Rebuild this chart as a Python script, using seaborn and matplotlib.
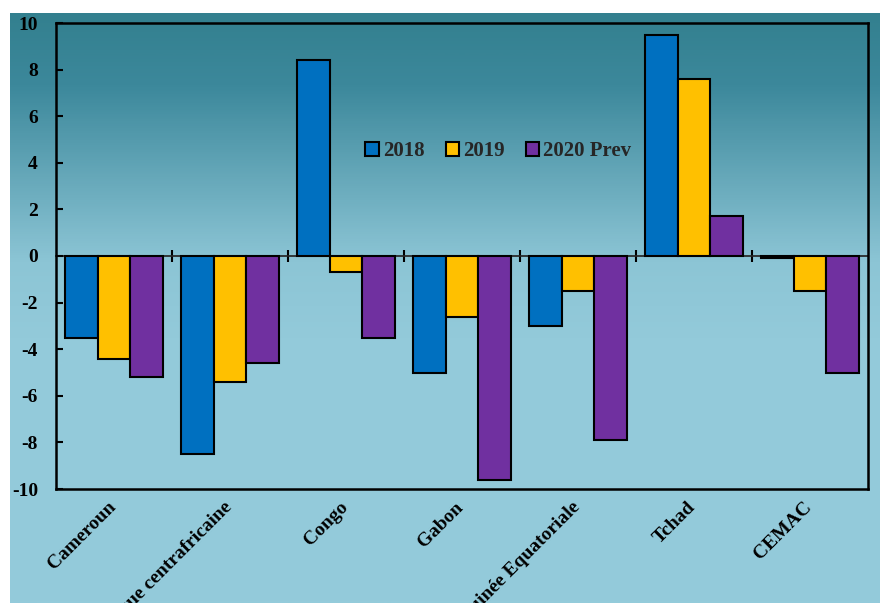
import numpy as np
import pandas as pd
import matplotlib
matplotlib.use("Agg")
import matplotlib.pyplot as plt
from matplotlib.colors import LinearSegmentedColormap
from matplotlib.transforms import ScaledTranslation
import seaborn as sns

# Données : solde budgétaire (% du PIB) par pays de la CEMAC
pays = ["Cameroun", "République centrafricaine", "Congo", "Gabon",
        "Guinée Equatoriale", "Tchad", "CEMAC"]
annees = ["2018", "2019", "2020 Prev"]
v2018 = [-3.5, -8.5, 8.4, -5.0, -3.0, 9.5, -0.1]
v2019 = [-4.4, -5.4, -0.7, -2.6, -1.5, 7.6, -1.5]
v2020 = [-5.2, -4.6, -3.5, -9.6, -7.9, 1.7, -5.0]
couleurs = ["#0070C0", "#FFC000", "#7030A0"]
yticks = [-10, -8, -6, -4, -2, 0, 2, 4, 6, 8, 10]

df = pd.DataFrame({
    "pays": pays * 3,
    "annee": [a for a in annees for _ in pays],
    "valeur": v2018 + v2019 + v2020,
})

sns.set_theme(style="white")
plt.rcParams["font.family"] = ["Liberation Serif", "DejaVu Serif"]
plt.rcParams["font.weight"] = "bold"

W, H = 880, 603
fig = plt.figure(figsize=(W / 100, H / 100), dpi=100)
fig.patch.set_facecolor("white")

# fond dégradé (bleu canard en haut, bleu clair en bas)
bg = fig.add_axes([10 / W, 0, 1 - 10 / W, 1 - 13 / H], zorder=-10)
cmap = LinearSegmentedColormap.from_list(
    "fond", [(0.0, "#33808F"), (0.12, "#3C889B"), (0.42, "#8CC5D5"),
             (0.55, "#93CADA"), (1.0, "#94CBDB")])
grad = np.linspace(0, 1, 600).reshape(-1, 1)
bg.imshow(grad, aspect="auto", cmap=cmap, extent=[0, 1, 0, 1], origin="upper")
bg.set_axis_off()

ax = fig.add_axes([56 / W, 1 - 489 / H, (868 - 56) / W, (489 - 23) / H])
ax.patch.set_alpha(0)

sns.barplot(data=df, x="pays", y="valeur", hue="annee", order=pays,
            hue_order=annees, palette=couleurs, saturation=1, width=0.85,
            gap=0, edgecolor="black", linewidth=1.5, errorbar=None, ax=ax)

ax.set_ylim(-10, 10)
ax.set_xlim(-0.5, len(pays) - 0.5)
ax.set_yticks(yticks)
ax.set_yticklabels([str(t) for t in yticks], fontsize=14, fontweight="bold")
ax.tick_params(axis="y", direction="in", length=5, width=1.5, pad=13,
               colors="black", left=True)
ax.set_xticks(range(len(pays)))
ax.set_xticklabels(pays, rotation=45, ha="right", fontsize=14,
                   fontweight="bold")
ax.tick_params(axis="x", length=0, pad=7, colors="black")
decal = ScaledTranslation(5 / 100, 0, fig.dpi_scale_trans)
for lab in ax.get_xticklabels():
    lab.set_transform(lab.get_transform() + decal)
ax.set_xlabel("")
ax.set_ylabel("")
for s in ax.spines.values():
    s.set_visible(True)
    s.set_color("black")
    s.set_linewidth(1.8)

# axe horizontal à zéro avec graduations entre les groupes
zero = ax.secondary_xaxis(0.5)
zero.set_xticks(np.arange(len(pays) - 1) + 0.5)
zero.set_xticklabels([])
zero.tick_params(axis="x", direction="inout", length=9, width=1.5,
                 colors="black")
zero.spines["bottom"].set_linewidth(1.8)
zero.spines["bottom"].set_color("black")

sns.move_legend(ax, loc="center", bbox_to_anchor=(0.545, 0.725), ncol=3,
                frameon=False, title=None,
                handlelength=0.65, handleheight=0.65, handletextpad=0.2,
                columnspacing=1.0, prop={"weight": "bold", "size": 15})

fig.savefig("out.png", dpi=100)
